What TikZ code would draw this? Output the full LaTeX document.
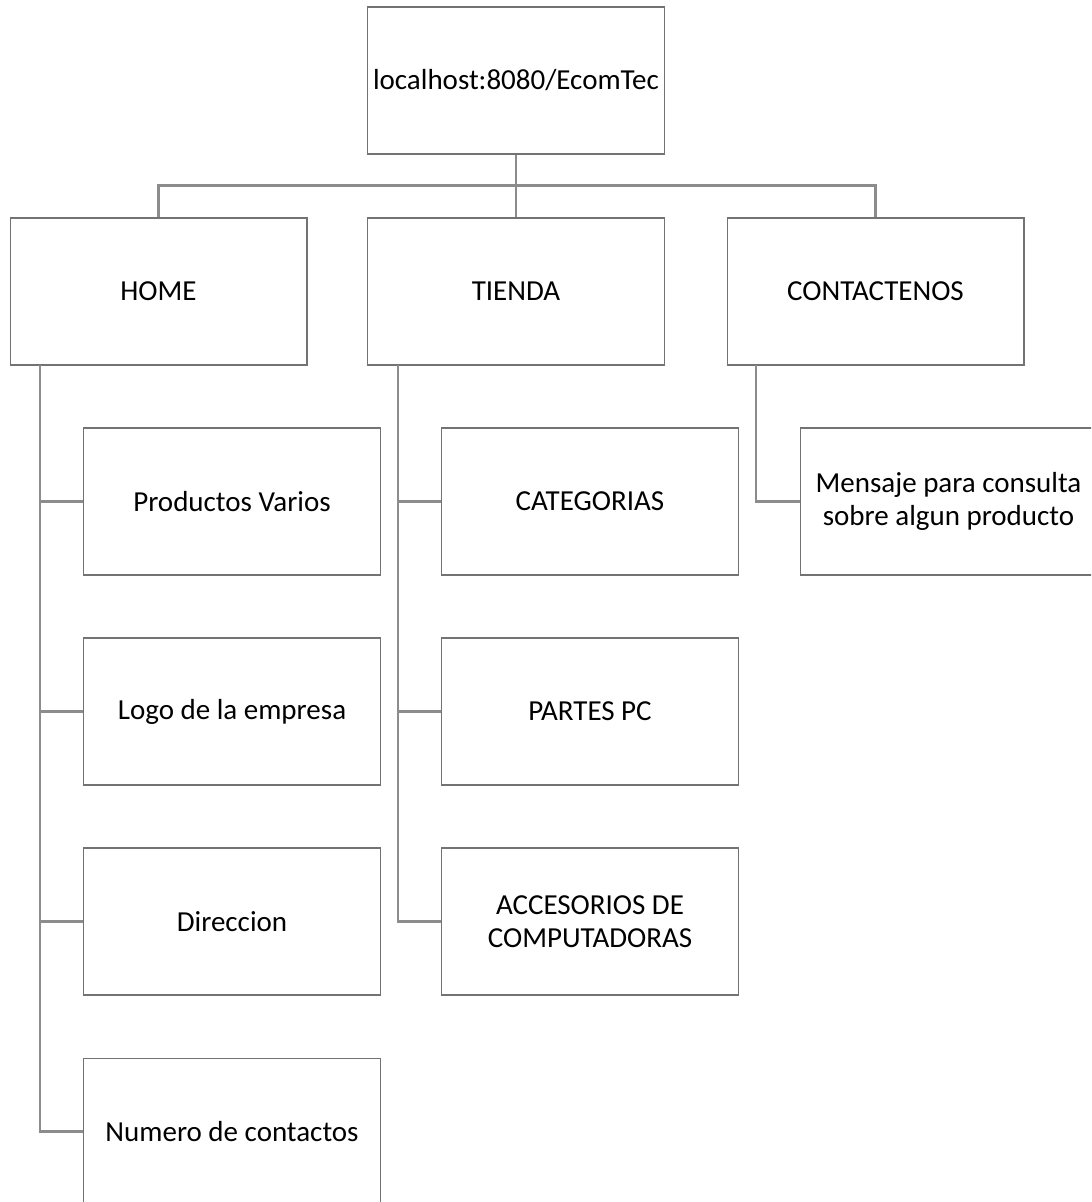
\documentclass[tikz,border=0pt]{standalone}
\usepackage{fontspec}
\setmainfont{Carlito}
\usetikzlibrary{positioning}
\tikzset{page/.style={draw=black!55,line width=0.6pt,fill=white,align=center,
 minimum width=5.94cm,minimum height=2.94cm,inner sep=0pt,
 font=\fontsize{16.5}{19}\selectfont},
 link/.style={draw=black!45,line width=1.2pt}}
\begin{document}
\begin{tikzpicture}[x=0.02cm,y=0.02cm]
\clip (0,0) rectangle (1091,-1202);
\node[page] (root) at (516,-80.5) {localhost:8080/EcomTec};
\node[page] (home) at (158.5,-291.5) {HOME};
\node[page] (tienda) at (516,-291.5) {TIENDA};
\node[page] (cont) at (875.5,-291.5) {CONTACTENOS};
\node[page] (h1) at (232,-501.5) {Productos Varios};
\node[page] (h2) at (232,-711.5) {Logo de la empresa};
\node[page] (h3) at (232,-921.5) {Direccion};
\node[page] (h4) at (232,-1131.5) {Numero de contactos};
\node[page] (t1) at (590,-501.5) {CATEGORIAS};
\node[page] (t2) at (590,-711.5) {PARTES PC};
\node[page] (t3) at (590,-921.5) {ACCESORIOS DE\\COMPUTADORAS};
\node[page] (c1) at (948.5,-501.5) {Mensaje para consulta\\sobre algun producto};
% top level
\draw[link] (root.south) -- ++(0,-31) coordinate (bar);
\draw[link] (home.north) |- (bar) -| (cont.north);
\draw[link] (bar) -- (tienda.north);
% HOME
\coordinate (hl) at (40,-365);
\draw[link] (hl) |- (h4.west);
\foreach \n in {h1,h2,h3} \draw[link] (hl |- \n.west) -- (\n.west);
% TIENDA
\coordinate (tl) at (398,-365);
\draw[link] (tl) |- (t3.west);
\foreach \n in {t1,t2} \draw[link] (tl |- \n.west) -- (\n.west);
% CONTACTENOS
\coordinate (cl) at (756,-365);
\draw[link] (cl) |- (c1.west);
\end{tikzpicture}
\end{document}
